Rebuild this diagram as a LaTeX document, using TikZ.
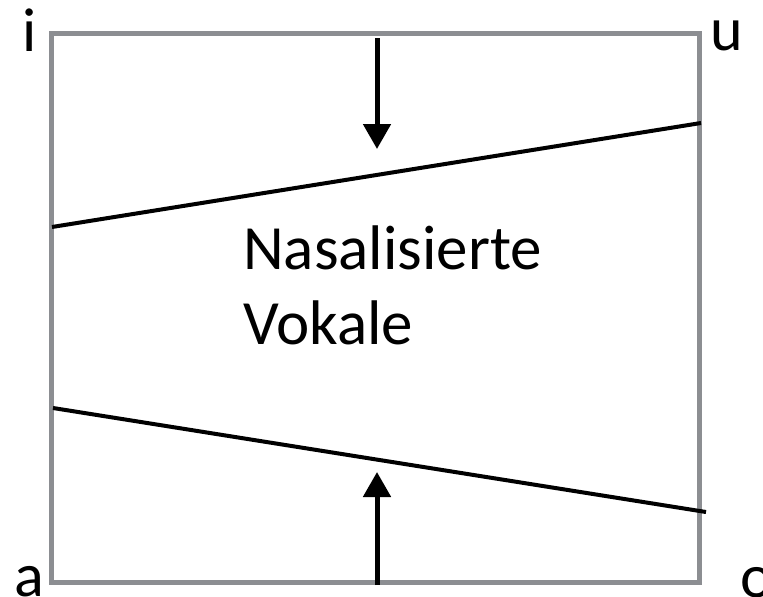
\documentclass[tikz,border=0pt]{standalone}
\usepackage{fontspec}
\setmainfont{Carlito}
\usetikzlibrary{arrows.meta}
\definecolor{boxgray}{HTML}{8C8E92}
\begin{document}
\begin{tikzpicture}[x=1pt,y=-1pt,
  lbl/.style={inner sep=0pt, anchor=base, font=\fontsize{62}{75}\selectfont},
  txt/.style={inner sep=0pt, anchor=base west, font=\fontsize{63}{75}\selectfont},
  boxline/.style={draw=boxgray, line width=5pt},
  slant/.style={draw=black, line width=4pt},
  arr/.style={draw=black, line width=5pt, -{Triangle[length=25pt,width=27pt]}}]
\useasboundingbox (0,0) rectangle (763,597);
\draw[boxline] (51,33) rectangle (699,582);
\coordinate (l1a) at (52,227);
\coordinate (l1b) at (701,123);
\coordinate (l2a) at (53,408);
\coordinate (l2b) at (706,512);
\draw[slant] (l1a) -- (l1b);
\draw[slant] (l2a) -- (l2b);
\coordinate (t0) at (377,38);
\coordinate (t1) at (377,149);
\coordinate (b0) at (377,585);
\coordinate (b1) at (377,472);
\draw[arr] (t0) -- (t1);
\draw[arr] (b0) -- (b1);
\node[lbl] (i) at (30,51) {i};
\node[lbl] (u) at (727,50) {u};
\node[lbl] (a) at (29,596) {a};
\node[lbl] (o) at (757,597) {o};
\node[txt] (n1) at (243,269) {Nasalisierte};
\node[txt] (n2) at (243,344) {Vokale};
\end{tikzpicture}
\end{document}
